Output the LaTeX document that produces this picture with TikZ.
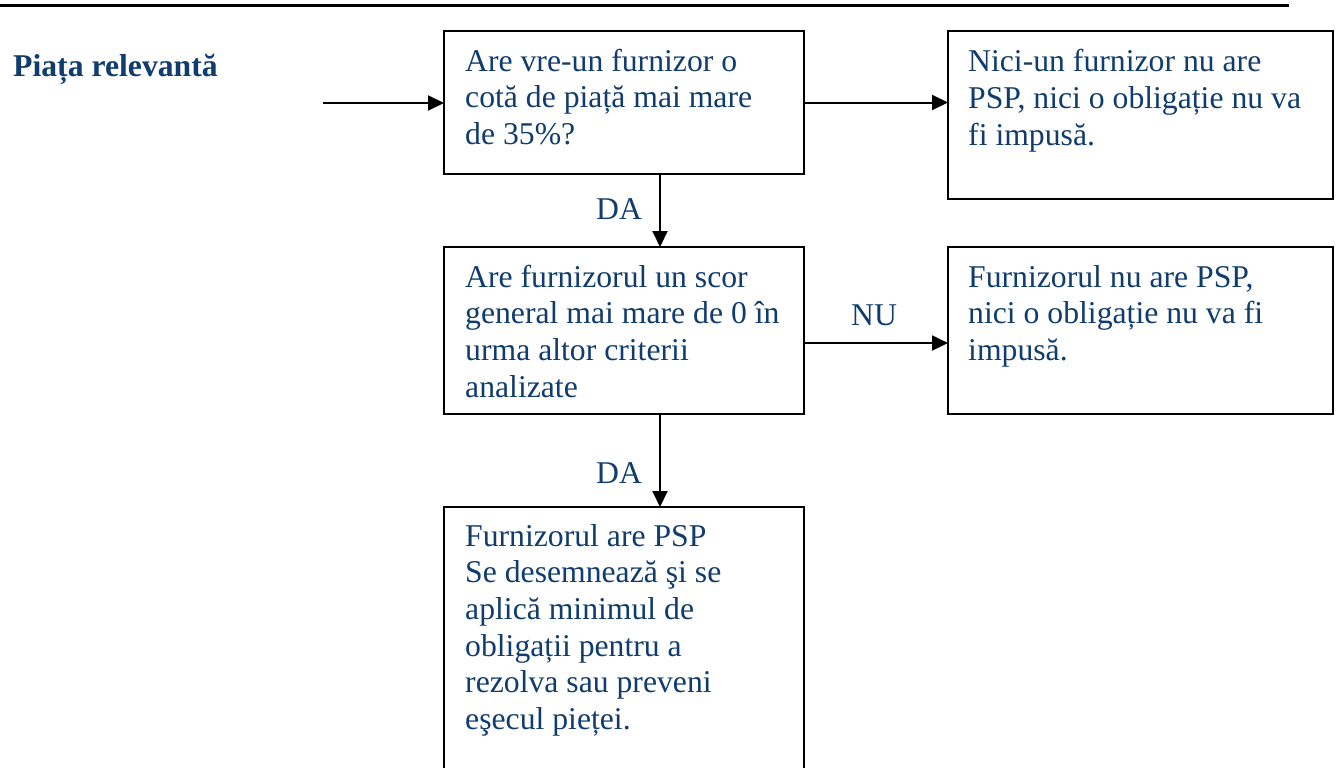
\documentclass[tikz,border=0pt]{standalone}
\usepackage{fontspec}
\setmainfont{Liberation Serif}
\usetikzlibrary{arrows.meta,calc}
\definecolor{navy}{RGB}{16,60,110}
\begin{document}
\begin{tikzpicture}[x=1pt,y=-1pt,
  box/.style={draw=black,line width=2.4pt,rectangle,inner sep=0pt,outer sep=0pt,anchor=north west},
  txt/.style={anchor=base west,inner sep=0pt,text=navy,font=\fontsize{31.7}{36.7}\selectfont},
  conn/.style={line width=2pt,-{Triangle[length=16pt,width=15pt]}},
  title/.style={anchor=base west,inner sep=0pt,text=navy,font=\bfseries\fontsize{31.7}{36.7}\selectfont}]
\clip (0,0) rectangle (1336,768);
\fill[white] (0,0) rectangle (1336,768);
% top rule
\draw[line width=3pt] (0,5.5) -- (1289,5.5);
% title
\node[title] (lab) at (13,77) {Piața relevantă};
% boxes
\node[box,minimum width=360pt,minimum height=143pt] (b1) at (444,31) {};
\node[box,minimum width=385pt,minimum height=168pt] (b2) at (948,31) {};
\node[box,minimum width=360pt,minimum height=167pt] (b3) at (444,247) {};
\node[box,minimum width=385pt,minimum height=167pt] (b4) at (948,247) {};
\node[box,minimum width=360pt,minimum height=300pt] (b5) at (444,507) {};
% texts
\node[txt] (t1) at (465,71) {\parbox[t]{330pt}{\raggedright Are vre-un furnizor o\\cotă de piață mai mare\\de 35\%?}};
\node[txt] (t2) at (968,72) {\parbox[t]{360pt}{\raggedright Nici-un furnizor nu are\\PSP, nici o obligație nu va\\fi impusă.}};
\node[txt] (t3) at (465,287) {\parbox[t]{330pt}{\raggedright Are furnizorul un scor\\general mai mare de 0 în\\urma altor criterii\\analizate}};
\node[txt] (t4) at (968,287) {\parbox[t]{360pt}{\raggedright Furnizorul nu are PSP,\\nici o obligație nu va fi\\impusă.}};
\node[txt] (t5) at (465,546) {\parbox[t]{330pt}{\raggedright Furnizorul are PSP\\Se desemnează şi se\\aplică minimul de\\obligații pentru a\\rezolva sau preveni\\eşecul pieței.}};
% connectors
\coordinate (start) at (323,103);
\draw[conn] (start) -- (start -| b1.west);
\draw[conn] (b1.east) -- (b1.east -| b2.west);
\coordinate (d1) at ($(b1.south west)!0.6!(b1.south east)$);
\draw[conn] (d1) -- (d1 |- b3.north);
\coordinate (n1) at ($(b3.north east)!0.575!(b3.south east)$);
\draw[conn] (n1) -- (n1 -| b4.west);
\coordinate (d2) at ($(b3.south west)!0.6!(b3.south east)$);
\draw[conn] (d2) -- (d2 |- b5.north);
% connector labels
\node[txt] (da1) at (596,219) {DA};
\node[txt] (nu) at (851,325) {NU};
\node[txt] (da2) at (596,483) {DA};
\end{tikzpicture}
\end{document}
